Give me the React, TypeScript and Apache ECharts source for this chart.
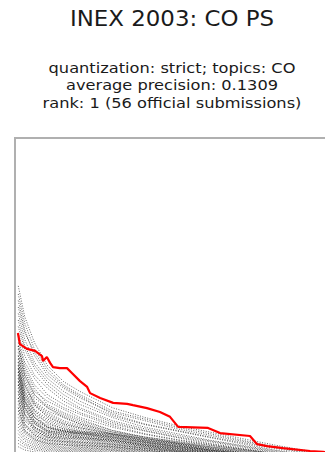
import React, { useEffect, useRef } from "react";
import * as echarts from "echarts";

// Heading texts
const TITLE = "INEX 2003: CO PS";
const SUBTITLE_LINES = [
  "quantization: strict; topics: CO",
  "average precision: 0.1309",
  "rank: 1 (56 official submissions)",
];

// Recall points shared by the other official runs
const RUN_RECALL = [0.01, 0.03, 0.06, 0.1, 0.15, 0.2, 0.3, 0.4, 0.5, 0.6, 0.8, 1.0];

// Precision of the other 55 official runs at RUN_RECALL
const OTHER_RUNS: number[][] = [
  [0.545, 0.45, 0.37, 0.3, 0.25, 0.22, 0.17, 0.14, 0.115, 0.095, 0.055, 0.02],
  [0.52, 0.43, 0.35, 0.29, 0.24, 0.21, 0.16, 0.135, 0.11, 0.09, 0.05, 0.018],
  [0.5, 0.41, 0.33, 0.27, 0.23, 0.2, 0.155, 0.13, 0.105, 0.085, 0.048, 0.015],
  [0.48, 0.4, 0.34, 0.28, 0.235, 0.205, 0.15, 0.12, 0.1, 0.08, 0.045, 0.012],
  [0.46, 0.38, 0.31, 0.26, 0.22, 0.19, 0.145, 0.118, 0.098, 0.078, 0.04, 0.01],
  [0.44, 0.36, 0.3, 0.25, 0.21, 0.18, 0.14, 0.11, 0.09, 0.07, 0.038, 0.01],
  [0.42, 0.35, 0.29, 0.24, 0.2, 0.17, 0.13, 0.105, 0.085, 0.068, 0.035, 0.008],
  [0.4, 0.33, 0.27, 0.23, 0.19, 0.165, 0.125, 0.1, 0.08, 0.065, 0.033, 0.008],
  [0.38, 0.31, 0.26, 0.21, 0.18, 0.155, 0.12, 0.098, 0.078, 0.06, 0.03, 0.006],
  [0.37, 0.3, 0.24, 0.2, 0.17, 0.15, 0.115, 0.09, 0.072, 0.058, 0.028, 0.005],
  [0.36, 0.28, 0.22, 0.19, 0.165, 0.14, 0.11, 0.088, 0.07, 0.055, 0.027, 0.005],
  [0.35, 0.29, 0.23, 0.18, 0.155, 0.135, 0.1, 0.08, 0.065, 0.05, 0.025, 0.004],
  [0.34, 0.27, 0.21, 0.175, 0.15, 0.13, 0.1, 0.078, 0.062, 0.048, 0.024, 0.004],
  [0.33, 0.26, 0.2, 0.17, 0.145, 0.125, 0.095, 0.075, 0.06, 0.046, 0.022, 0.003],
  [0.32, 0.25, 0.19, 0.16, 0.14, 0.12, 0.09, 0.072, 0.058, 0.044, 0.02, 0.003],
  [0.31, 0.24, 0.185, 0.155, 0.13, 0.115, 0.088, 0.07, 0.055, 0.042, 0.02, 0.003],
  [0.31, 0.22, 0.16, 0.12, 0.105, 0.098, 0.09, 0.075, 0.06, 0.045, 0.02, 0.002],
  [0.3, 0.21, 0.15, 0.11, 0.1, 0.095, 0.088, 0.07, 0.058, 0.04, 0.018, 0.002],
  [0.3, 0.2, 0.14, 0.105, 0.098, 0.094, 0.085, 0.068, 0.055, 0.038, 0.016, 0.002],
  [0.29, 0.19, 0.13, 0.1, 0.095, 0.092, 0.082, 0.065, 0.05, 0.036, 0.015, 0.001],
  [0.29, 0.23, 0.18, 0.15, 0.125, 0.11, 0.085, 0.067, 0.052, 0.04, 0.018, 0.002],
  [0.28, 0.22, 0.175, 0.145, 0.12, 0.105, 0.08, 0.063, 0.05, 0.038, 0.017, 0.002],
  [0.28, 0.18, 0.125, 0.098, 0.092, 0.09, 0.08, 0.062, 0.048, 0.035, 0.014, 0.001],
  [0.27, 0.21, 0.165, 0.135, 0.115, 0.1, 0.076, 0.06, 0.047, 0.035, 0.015, 0.001],
  [0.26, 0.2, 0.16, 0.13, 0.11, 0.095, 0.072, 0.057, 0.045, 0.033, 0.014, 0.001],
  [0.25, 0.19, 0.15, 0.125, 0.105, 0.09, 0.07, 0.055, 0.043, 0.032, 0.013, 0.001],
  [0.25, 0.17, 0.12, 0.095, 0.088, 0.085, 0.075, 0.058, 0.045, 0.032, 0.012, 0.001],
  [0.24, 0.18, 0.14, 0.115, 0.1, 0.086, 0.066, 0.052, 0.04, 0.03, 0.012, 0.001],
  [0.23, 0.17, 0.13, 0.11, 0.095, 0.082, 0.063, 0.05, 0.038, 0.028, 0.011, 0.001],
  [0.22, 0.16, 0.125, 0.1, 0.09, 0.078, 0.06, 0.047, 0.036, 0.027, 0.01, 0.001],
  [0.22, 0.15, 0.11, 0.09, 0.085, 0.08, 0.07, 0.055, 0.042, 0.03, 0.01, 0.0],
  [0.21, 0.15, 0.12, 0.095, 0.085, 0.074, 0.057, 0.045, 0.035, 0.026, 0.01, 0.0],
  [0.2, 0.14, 0.11, 0.09, 0.08, 0.07, 0.055, 0.043, 0.033, 0.025, 0.009, 0.0],
  [0.19, 0.135, 0.105, 0.085, 0.075, 0.066, 0.052, 0.04, 0.031, 0.023, 0.008, 0.0],
  [0.18, 0.13, 0.1, 0.08, 0.072, 0.063, 0.05, 0.038, 0.03, 0.022, 0.008, 0.0],
  [0.17, 0.12, 0.095, 0.078, 0.068, 0.06, 0.047, 0.036, 0.028, 0.02, 0.007, 0.0],
  [0.16, 0.115, 0.09, 0.074, 0.065, 0.057, 0.045, 0.034, 0.026, 0.019, 0.006, 0.0],
  [0.15, 0.11, 0.085, 0.07, 0.062, 0.054, 0.042, 0.032, 0.025, 0.018, 0.006, 0.0],
  [0.14, 0.1, 0.08, 0.066, 0.058, 0.05, 0.04, 0.03, 0.023, 0.016, 0.005, 0.0],
  [0.13, 0.095, 0.075, 0.062, 0.055, 0.048, 0.038, 0.028, 0.021, 0.015, 0.005, 0.0],
  [0.12, 0.09, 0.07, 0.058, 0.05, 0.045, 0.035, 0.026, 0.02, 0.014, 0.004, 0.0],
  [0.11, 0.082, 0.065, 0.054, 0.047, 0.042, 0.032, 0.024, 0.018, 0.012, 0.004, 0.0],
  [0.1, 0.075, 0.06, 0.05, 0.044, 0.039, 0.03, 0.022, 0.016, 0.011, 0.003, 0.0],
  [0.09, 0.068, 0.055, 0.046, 0.04, 0.036, 0.028, 0.02, 0.015, 0.01, 0.003, 0.0],
  [0.08, 0.06, 0.05, 0.042, 0.037, 0.033, 0.025, 0.018, 0.013, 0.009, 0.002, 0.0],
  [0.07, 0.055, 0.045, 0.038, 0.034, 0.03, 0.022, 0.016, 0.012, 0.008, 0.002, 0.0],
  [0.06, 0.048, 0.04, 0.034, 0.03, 0.027, 0.02, 0.014, 0.01, 0.007, 0.002, 0.0],
  [0.05, 0.04, 0.034, 0.03, 0.027, 0.024, 0.018, 0.012, 0.009, 0.006, 0.001, 0.0],
  [0.26, 0.17, 0.11, 0.085, 0.08, 0.078, 0.07, 0.054, 0.04, 0.028, 0.01, 0.0],
  [0.24, 0.15, 0.1, 0.08, 0.076, 0.074, 0.066, 0.05, 0.037, 0.026, 0.009, 0.0],
  [0.2, 0.12, 0.085, 0.07, 0.066, 0.064, 0.058, 0.045, 0.034, 0.024, 0.008, 0.0],
  [0.33, 0.24, 0.18, 0.14, 0.12, 0.108, 0.09, 0.075, 0.062, 0.05, 0.028, 0.006],
  [0.27, 0.19, 0.14, 0.11, 0.098, 0.09, 0.078, 0.064, 0.052, 0.04, 0.02, 0.003],
  [0.36, 0.27, 0.21, 0.17, 0.14, 0.12, 0.095, 0.08, 0.066, 0.054, 0.03, 0.008],
  [0.17, 0.1, 0.072, 0.06, 0.056, 0.054, 0.05, 0.04, 0.03, 0.02, 0.007, 0.0],
];

// Highlighted run (rank 1): recall and precision
const BEST_RECALL = [
  0.009, 0.015, 0.037, 0.062, 0.083, 0.086, 0.098, 0.108, 0.117, 0.138, 0.16,
  0.175, 0.2, 0.222, 0.231, 0.262, 0.302, 0.345, 0.363, 0.406, 0.446, 0.477,
  0.502, 0.594, 0.631, 0.723, 0.745, 0.775, 0.825, 0.908, 0.948, 1.0,
];
const BEST_PRECISION = [
  0.4, 0.366, 0.351, 0.345, 0.329, 0.314, 0.326, 0.308, 0.295, 0.292, 0.292,
  0.277, 0.252, 0.234, 0.215, 0.2, 0.185, 0.182, 0.178, 0.169, 0.157, 0.142,
  0.111, 0.108, 0.092, 0.083, 0.058, 0.052, 0.046, 0.037, 0.034, 0.03,
];

export default function App() {
  const ref = useRef<HTMLDivElement>(null);

  useEffect(() => {
    if (!ref.current) return;
    const chart = echarts.init(ref.current, undefined, { renderer: "svg" });

    const otherSeries = OTHER_RUNS.map((run, i) => ({
      name: "run" + (i + 1),
      type: "line",
      data: RUN_RECALL.map((r, j) => [r, run[j]]),
      showSymbol: false,
      silent: true,
      z: 2,
      lineStyle: { color: "#000", width: 1, type: [1, 1.5], opacity: 0.6 },
    }));

    const font = "DejaVu Sans";
    chart.setOption({
      animation: false,
      backgroundColor: "#fff",
      grid: { left: 15, top: 138, width: 325, height: 325, show: true, borderColor: "#b0b0b0", borderWidth: 2, backgroundColor: "transparent" },
      xAxis: { type: "value", min: 0, max: 1, show: false },
      yAxis: { type: "value", min: 0, max: 1, show: false },
      graphic: [
        {
          type: "text",
          x: 172,
          y: 29,
          scaleX: 1.04,
          style: { text: TITLE, fill: "#1a1a1a", font: `22px "${font}"`, textAlign: "center", textVerticalAlign: "bottom" },
        },
        ...SUBTITLE_LINES.map((t, i) => ({
          type: "text",
          x: 172,
          y: 68 + i * 17.5,
          scaleX: 1.12,
          style: { text: t, fill: "#1a1a1a", font: `14.5px "${font}"`, textAlign: "center", textVerticalAlign: "middle" },
        })),
      ],
      series: [
        ...otherSeries,
        {
          name: "rank 1",
          type: "line",
          data: BEST_RECALL.map((r, j) => [r, BEST_PRECISION[j]]),
          showSymbol: false,
          silent: true,
          z: 5,
          lineStyle: { color: "#ff0000", width: 2.2 },
        },
      ],
    });

    return () => chart.dispose();
  }, []);

  // The plot frame runs past the right and bottom edges of the visible area.
  return (
    <div style={{ width: 325, height: 452, position: "absolute", left: 0, top: 0, overflow: "hidden" }}>
      <div ref={ref} style={{ width: 350, height: 475 }} />
    </div>
  );
}
